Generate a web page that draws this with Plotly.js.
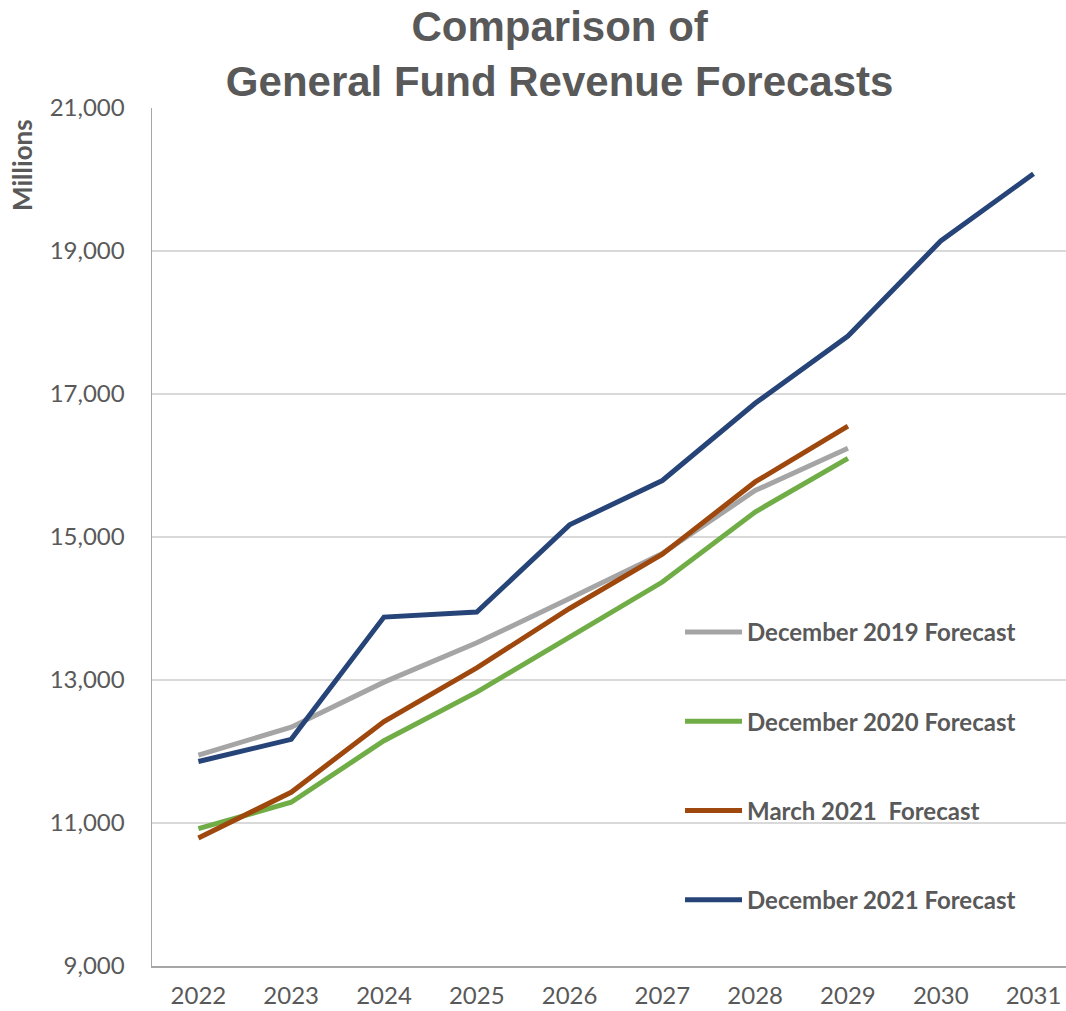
<!DOCTYPE html>
<html>
<head>
<meta charset="utf-8">
<script src="https://cdn.plot.ly/plotly-3.0.1.min.js"></script>
<style>html,body{margin:0;padding:0;background:#fff;}#chart{width:1066px;height:1011px;}</style>
</head>
<body>
<div id="chart"></div>
<script>
const years = ["2022","2023","2024","2025","2026","2027","2028","2029","2030","2031"];
const dec2019 = [11950, 12340, 12970, 13520, 14140, 14770, 15650, 16240];
const dec2020 = [10920, 11290, 12150, 12830, 13600, 14370, 15350, 16100];
const mar2021 = [10790, 11430, 12420, 13170, 14000, 14760, 15770, 16550];
const dec2021 = [11860, 12170, 13880, 13950, 15170, 15790, 16870, 17810, 19140, 20080];
const seriesNames = ["December 2019 Forecast", "December 2020 Forecast", "March 2021  Forecast", "December 2021 Forecast"];
const seriesColors = ["#a5a5a5", "#70ad47", "#9e480e", "#264478"];
const seriesValues = [dec2019, dec2020, mar2021, dec2021];
const yTicks = [9000, 11000, 13000, 15000, 17000, 19000, 21000];

const traces = seriesValues.map((vals, i) => ({
  type: "scatter",
  mode: "lines",
  x: years.slice(0, vals.length),
  y: vals,
  name: seriesNames[i],
  legendgroup: "g" + i,
  line: {color: seriesColors[i], width: 5},
  hoverinfo: "x+y+name"
}));

const layout = {
  width: 1066,
  height: 1011,
  margin: {l: 152, r: 0, t: 108, b: 45},
  paper_bgcolor: "#ffffff",
  plot_bgcolor: "#ffffff",
  font: {family: "Lato, 'Open Sans', sans-serif", color: "#595959"},
  title: {
    text: "Comparison of<br>General Fund Revenue Forecasts",
    font: {family: "'Liberation Sans', Arial, sans-serif", size: 42, color: "#595959", weight: "bold"},
    x: 0.525, xanchor: "center",
    y: 0.959, yanchor: "top", yref: "container"
  },
  xaxis: {
    type: "category",
    range: [-0.5, 9.35],
    showgrid: false,
    showline: true,
    linecolor: "#a6a6a6",
    linewidth: 1.5,
    ticks: "",
    tickfont: {size: 24, color: "#595959"},
    ticklabelstandoff: 8,
    zeroline: false,
    fixedrange: true
  },
  yaxis: {
    range: [9000, 21000],
    tickvals: yTicks,
    tickformat: ",d",
    showgrid: true,
    gridcolor: "#d9d9d9",
    gridwidth: 1.5,
    showline: true,
    linecolor: "#a6a6a6",
    linewidth: 1.5,
    ticks: "",
    ticklabelstandoff: 21,
    tickfont: {size: 24, color: "#595959"},
    zeroline: false,
    fixedrange: true
  },
  legend: {
    x: 0.5777, xanchor: "left",
    y: 0.415, yanchor: "top",
    bgcolor: "rgba(0,0,0,0)",
    font: {size: 24, color: "#595959", weight: "bold"},
    tracegroupgap: 55,
    itemwidth: 57
  },
  annotations: [{
    text: "Millions",
    textangle: -90,
    xref: "paper", yref: "paper",
    x: -0.143, y: 0.99,
    xanchor: "center", yanchor: "top",
    showarrow: false,
    font: {size: 26, color: "#595959", weight: "bold"}
  }],
  showlegend: true
};

Plotly.newPlot("chart", traces, layout, {displayModeBar: false, staticPlot: true});
</script>
</body>
</html>
